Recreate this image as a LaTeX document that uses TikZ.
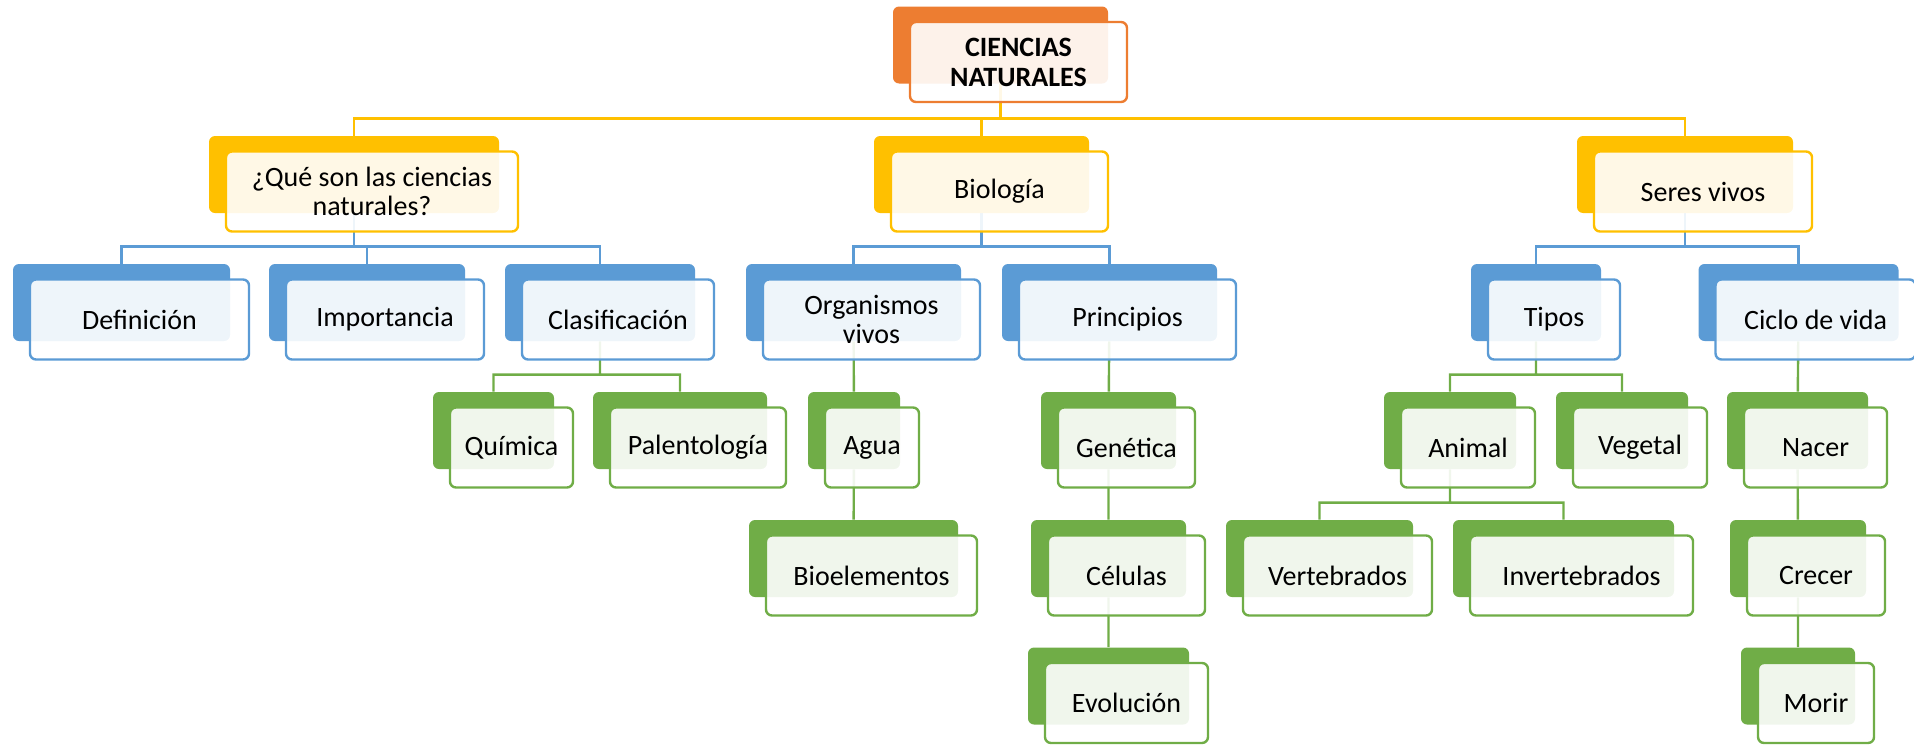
\documentclass[tikz,border=0pt]{standalone}
\usepackage{fontspec}
\setmainfont{Carlito}
\usetikzlibrary{backgrounds}
\definecolor{rootorange}{HTML}{ED7D31}
\definecolor{topgold}{HTML}{FFC000}
\definecolor{midblue}{HTML}{5B9BD5}
\definecolor{leafgreen}{HTML}{70AD47}
\begin{document}
\begin{tikzpicture}
[x=0.5pt,y=-0.5pt,
  backdecorate/.style={shape=rectangle,rounded corners=3pt,inner sep=0pt,minimum height=38.5pt,draw=none},%
  frontdecorate/.style={shape=rectangle,rounded corners=3pt,inner sep=0pt,minimum height=40pt,line width=1.2pt,fill=white,fill opacity=0.9,text opacity=1,align=center,font=\fontsize{14}{14.5}\selectfont},%
  linkdecorate/.style={line width=1.2pt}]
\useasboundingbox (0,0) rectangle (1914,744);
% nodes or boxes
\node (root) at (1000.5,45) [backdecorate,fill=rootorange,minimum width=107.5pt] {};
\node (root-t) at ([shift={(9pt,-8.5pt)}]root.center) [frontdecorate,draw=rootorange,minimum width=108.5pt,font=\fontsize{14}{15}\selectfont\bfseries] {CIENCIAS\\NATURALES};
% first level
\node (qs) at (354,174.5) [backdecorate,fill=topgold,minimum width=145pt] {};
\node (qs-t) at ([shift={(9pt,-8.5pt)}]qs.center) [frontdecorate,draw=topgold,minimum width=146pt] {¿Qué son las ciencias\\naturales?};
\node (bio) at (981.5,174.5) [backdecorate,fill=topgold,minimum width=107.5pt] {};
\node (bio-t) at ([shift={(9pt,-8.5pt)}]bio.center) [frontdecorate,draw=topgold,minimum width=108.5pt] {Biología};
\node (ser) at (1685,174.5) [backdecorate,fill=topgold,minimum width=108pt] {};
\node (ser-t) at ([shift={(9pt,-8.5pt)}]ser.center) [frontdecorate,draw=topgold,minimum width=109pt] {Seres vivos};
% second level
\node (def) at (121.5,302.5) [backdecorate,fill=midblue,minimum width=108.5pt] {};
\node (def-t) at ([shift={(9pt,-8.5pt)}]def.center) [frontdecorate,draw=midblue,minimum width=109.5pt] {Definición};
\node (imp) at (367,302.5) [backdecorate,fill=midblue,minimum width=98pt] {};
\node (imp-t) at ([shift={(9pt,-8.5pt)}]imp.center) [frontdecorate,draw=midblue,minimum width=99pt] {Importancia};
\node (cla) at (600,302.5) [backdecorate,fill=midblue,minimum width=95pt] {};
\node (cla-t) at ([shift={(9pt,-8.5pt)}]cla.center) [frontdecorate,draw=midblue,minimum width=96pt] {Clasificación};
\node (org) at (853.5,302.5) [backdecorate,fill=midblue,minimum width=107.5pt] {};
\node (org-t) at ([shift={(9pt,-8.5pt)}]org.center) [frontdecorate,draw=midblue,minimum width=108.5pt] {Organismos\\vivos};
\node (pri) at (1109.5,302.5) [backdecorate,fill=midblue,minimum width=107.5pt] {};
\node (pri-t) at ([shift={(9pt,-8.5pt)}]pri.center) [frontdecorate,draw=midblue,minimum width=108.5pt] {Principios};
\node (tip) at (1536,302.5) [backdecorate,fill=midblue,minimum width=65pt] {};
\node (tip-t) at ([shift={(9pt,-8.5pt)}]tip.center) [frontdecorate,draw=midblue,minimum width=66pt] {Tipos};
\node (cic) at (1798.5,302.5) [backdecorate,fill=midblue,minimum width=100pt] {};
\node (cic-t) at ([shift={(8.5pt,-8.5pt)}]cic.center) [frontdecorate,draw=midblue,minimum width=100pt] {Ciclo de vida};
% third level
\node (qui) at (493.5,430.5) [backdecorate,fill=leafgreen,minimum width=60.5pt] {};
\node (qui-t) at ([shift={(9pt,-8.5pt)}]qui.center) [frontdecorate,draw=leafgreen,minimum width=61.5pt] {Química};
\node (pal) at (680,430.5) [backdecorate,fill=leafgreen,minimum width=87pt] {};
\node (pal-t) at ([shift={(9pt,-8.5pt)}]pal.center) [frontdecorate,draw=leafgreen,minimum width=88pt] {Palentología};
\node (agu) at (854,430.5) [backdecorate,fill=leafgreen,minimum width=46pt] {};
\node (agu-t) at ([shift={(9pt,-8.5pt)}]agu.center) [frontdecorate,draw=leafgreen,minimum width=47pt] {Agua};
\node (gen) at (1108.5,430.5) [backdecorate,fill=leafgreen,minimum width=67.5pt] {};
\node (gen-t) at ([shift={(9pt,-8.5pt)}]gen.center) [frontdecorate,draw=leafgreen,minimum width=68.5pt] {Genética};
\node (ani) at (1450,430.5) [backdecorate,fill=leafgreen,minimum width=66pt] {};
\node (ani-t) at ([shift={(9pt,-8.5pt)}]ani.center) [frontdecorate,draw=leafgreen,minimum width=67pt] {Animal};
\node (veg) at (1622,430.5) [backdecorate,fill=leafgreen,minimum width=66pt] {};
\node (veg-t) at ([shift={(9pt,-8.5pt)}]veg.center) [frontdecorate,draw=leafgreen,minimum width=67pt] {Vegetal};
\node (nac) at (1797.5,430.5) [backdecorate,fill=leafgreen,minimum width=70.5pt] {};
\node (nac-t) at ([shift={(9pt,-8.5pt)}]nac.center) [frontdecorate,draw=leafgreen,minimum width=71.5pt] {Nacer};
% fourth level
\node (bioe) at (853.5,558.5) [backdecorate,fill=leafgreen,minimum width=104.5pt] {};
\node (bioe-t) at ([shift={(9pt,-8.5pt)}]bioe.center) [frontdecorate,draw=leafgreen,minimum width=105.5pt] {Bioelementos};
\node (cel) at (1108.5,558.5) [backdecorate,fill=leafgreen,minimum width=77.5pt] {};
\node (cel-t) at ([shift={(9pt,-8.5pt)}]cel.center) [frontdecorate,draw=leafgreen,minimum width=78.5pt] {Células};
\node (ver) at (1319.5,558.5) [backdecorate,fill=leafgreen,minimum width=93.5pt] {};
\node (ver-t) at ([shift={(9pt,-8.5pt)}]ver.center) [frontdecorate,draw=leafgreen,minimum width=94.5pt] {Vertebrados};
\node (inv) at (1563.5,558.5) [backdecorate,fill=leafgreen,minimum width=110.5pt] {};
\node (inv-t) at ([shift={(9pt,-8.5pt)}]inv.center) [frontdecorate,draw=leafgreen,minimum width=111.5pt] {Invertebrados};
\node (cre) at (1798,558.5) [backdecorate,fill=leafgreen,minimum width=68pt] {};
\node (cre-t) at ([shift={(9pt,-8.5pt)}]cre.center) [frontdecorate,draw=leafgreen,minimum width=69pt] {Crecer};
% fifth level
\node (evo) at (1108.5,686) [backdecorate,fill=leafgreen,minimum width=80.5pt] {};
\node (evo-t) at ([shift={(9pt,-8.5pt)}]evo.center) [frontdecorate,draw=leafgreen,minimum width=81.5pt] {Evolución};
\node (mor) at (1798,686) [backdecorate,fill=leafgreen,minimum width=57pt] {};
\node (mor-t) at ([shift={(9pt,-8.5pt)}]mor.center) [frontdecorate,draw=leafgreen,minimum width=58pt] {Morir};
% edges or lines
\begin{scope}[on background layer]
\path[linkdecorate,draw=topgold]
(root) |- ([yshift=8.5pt]qs.north) -- (qs.north)
(root) |- ([yshift=8.5pt]bio.north) -- (bio.north)
(root) |- ([yshift=8.5pt]ser.north) -- (ser.north);
\path[linkdecorate,draw=midblue]
(qs) |- ([yshift=8.5pt]def.north) -- (def.north)
(qs) |- ([yshift=8.5pt]imp.north) -- (imp.north)
(qs) |- ([yshift=8.5pt]cla.north) -- (cla.north)
(bio) |- ([yshift=8.5pt]org.north) -- (org.north)
(bio) |- ([yshift=8.5pt]pri.north) -- (pri.north)
(ser) |- ([yshift=8.5pt]tip.north) -- (tip.north)
(ser) |- ([yshift=8.5pt]cic.north) -- (cic.north);
\path[linkdecorate,draw=leafgreen]
(cla) |- ([yshift=8.5pt]qui.north) -- (qui.north)
(cla) |- ([yshift=8.5pt]pal.north) -- (pal.north)
(org) -- (agu)
(agu) -- (bioe)
(pri) -- (gen)
(gen) -- (cel)
(cel) -- (evo)
(tip) |- ([yshift=8.5pt]ani.north) -- (ani.north)
(tip) |- ([yshift=8.5pt]veg.north) -- (veg.north)
(ani) |- ([yshift=8.5pt]ver.north) -- (ver.north)
(ani) |- ([yshift=8.5pt]inv.north) -- (inv.north)
(cic) -- (nac)
(nac) -- (cre)
(cre) -- (mor);
\end{scope}
\end{tikzpicture}
\end{document}
